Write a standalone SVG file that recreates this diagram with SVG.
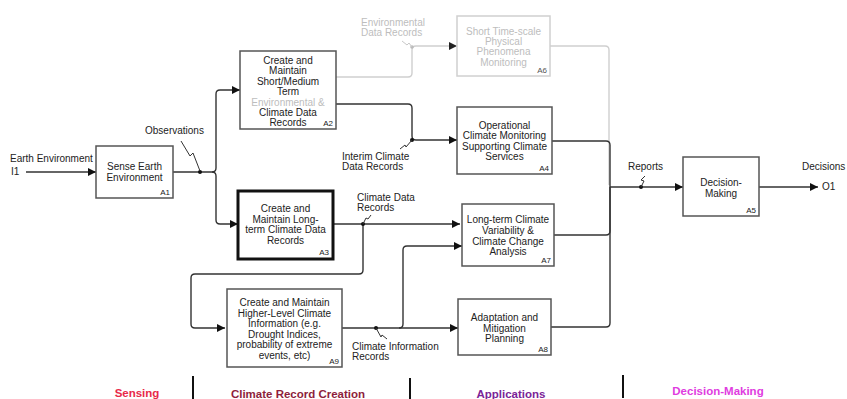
<svg xmlns="http://www.w3.org/2000/svg" width="847" height="399" viewBox="0 0 847 399">
<style>
text{font-family:"Liberation Sans",Arial,sans-serif;fill:#222}
.t{font-size:10px;text-anchor:middle}
.l{font-size:10px}
.id{font-size:8px;text-anchor:end}
.box{fill:#fff;stroke:#555;stroke-width:1.5}
.gbox{fill:#fff;stroke:#d0d0d0;stroke-width:1.5}
.gt{fill:#bdbdbd}
.c{fill:none;stroke:#333;stroke-width:1.4}
.g{fill:none;stroke:#cfcfcf;stroke-width:1.4}
.sq{fill:none;stroke:#333;stroke-width:1}
.sqg{fill:none;stroke:#c8c8c8;stroke-width:1}
.b{font-size:11.5px;font-weight:bold;text-anchor:middle}
</style>
<defs>
<marker id="ah" viewBox="0 0 10 10" refX="10" refY="5" markerWidth="9" markerHeight="8" markerUnits="userSpaceOnUse" orient="auto"><path d="M0,0L10,5L0,10z" fill="#111"/></marker>
<marker id="ahg" viewBox="0 0 10 10" refX="10" refY="5" markerWidth="9" markerHeight="8" markerUnits="userSpaceOnUse" orient="auto"><path d="M0,0L10,5L0,10z" fill="#222"/></marker>
</defs>
<rect width="847" height="399" fill="#fff"/>

<g id="connectors">
<path class="c" d="M26,172H96" marker-end="url(#ah)"/>
<path class="c" d="M173,172H212Q216,172 216,168V94Q216,90 220,90H240" marker-end="url(#ah)"/>
<path class="c" d="M212,172Q216,172 216,176V220Q216,224 220,224H238" marker-end="url(#ah)"/>
<path class="g" d="M336,77H408Q412,77 412,73V50Q412,46 416,46H457" marker-end="url(#ahg)"/>
<path class="c" d="M336,104H408Q412,104 412,108V136Q412,140 416,140H457" marker-end="url(#ah)"/>
<path class="g" d="M550,46H605Q609,46 609,50V185"/>
<path class="c" d="M552,141H606Q610,141 610,145V187"/>
<path class="c" d="M554,235H606Q610,235 610,231V187"/>
<path class="c" d="M551,327H606Q610,327 610,323V187"/>
<path class="c" d="M610,187H683" marker-end="url(#ah)"/>
<path class="c" d="M333,224H460" marker-end="url(#ah)"/>
<path class="c" d="M363,224V270Q363,274 359,274H195Q191,274 191,278V324Q191,328 195,328H225" marker-end="url(#ah)"/>
<path class="c" d="M342,328H458" marker-end="url(#ah)"/>
<path class="c" d="M399,328Q403,328 403,324V250Q403,246 407,246H462" marker-end="url(#ah)"/>
<path class="c" d="M759,187H818" marker-end="url(#ah)"/>
<circle cx="200" cy="172" r="2" fill="#111"/>
<circle cx="412" cy="47" r="1.8" fill="#bbb"/>
<circle cx="412" cy="140" r="2" fill="#111"/>
<circle cx="363" cy="224" r="2" fill="#111"/>
<circle cx="376" cy="328" r="2" fill="#111"/>
<circle cx="641" cy="187" r="2" fill="#111"/>
<polyline class="sq" points="181,141 190,156 193,153 200,171"/>
<polyline class="sqg" points="402,41 407,45 409,43 412,47"/>
<polyline class="sq" points="400,149 405,145 406,147 412,140"/>
<polyline class="sq" points="371,215 368,219 366,218 363,224"/>
<polyline class="sq" points="387,339 382,335 381,337 376,328"/>
<polyline class="sq" points="645,176 641,180 644,181 641,187"/>
</g>

<g id="labels">
<text class="l" x="10" y="162">Earth Environment</text>
<text class="l" x="11" y="175">I1</text>
<text class="l" x="145" y="134">Observations</text>
<text class="l gt" x="361" y="26">Environmental</text>
<text class="l gt" x="361" y="36">Data Records</text>
<text class="l" x="342" y="160">Interim Climate</text>
<text class="l" x="342" y="170">Data Records</text>
<text class="l" x="357" y="201">Climate Data</text>
<text class="l" x="357" y="211">Records</text>
<text class="l" x="352" y="350">Climate Information</text>
<text class="l" x="352" y="360">Records</text>
<text class="l" x="628" y="170">Reports</text>
<text class="l" x="802" y="170">Decisions</text>
<text class="l" x="822" y="190">O1</text>
</g>

<g id="A1">
<rect class="box" x="96" y="146" width="77" height="52"/>
<text class="t" x="134.5" y="169.5">Sense Earth</text>
<text class="t" x="134.5" y="180.5">Environment</text>
<text class="id" x="170" y="195">A1</text>
</g>
<g id="A2">
<rect class="box" x="240" y="51" width="96" height="78"/>
<text class="t" x="288" y="63.5">Create and</text>
<text class="t" x="288" y="74">Maintain</text>
<text class="t" x="288" y="84.5">Short/Medium</text>
<text class="t" x="288" y="95">Term</text>
<text class="t gt" x="288" y="105.5">Environmental &amp;</text>
<text class="t" x="288" y="116">Climate Data</text>
<text class="t" x="288" y="126">Records</text>
<text class="id" x="333" y="126">A2</text>
</g>
<g id="A6">
<rect class="gbox" x="457" y="16" width="93" height="60"/>
<text class="t gt" x="503.5" y="34.5">Short Time-scale</text>
<text class="t gt" x="503.5" y="44.5">Physical</text>
<text class="t gt" x="503.5" y="55">Phenomena</text>
<text class="t gt" x="503.5" y="65.5">Monitoring</text>
<text class="id" x="547" y="73" style="fill:#555">A6</text>
</g>
<g id="A4">
<rect class="box" x="457" y="107" width="95" height="67"/>
<text class="t" x="504.5" y="128.5">Operational</text>
<text class="t" x="504.5" y="139">Climate Monitoring</text>
<text class="t" x="504.5" y="149.5">Supporting Climate</text>
<text class="t" x="504.5" y="159.5">Services</text>
<text class="id" x="549" y="171">A4</text>
</g>
<g id="A3">
<rect x="238" y="191" width="95" height="68" fill="#fff" stroke="#111" stroke-width="3"/>
<text class="t" x="285.5" y="212">Create and</text>
<text class="t" x="285.5" y="222.5">Maintain Long-</text>
<text class="t" x="285.5" y="233">term Climate Data</text>
<text class="t" x="285.5" y="244">Records</text>
<text class="id" x="329" y="255">A3</text>
</g>
<g id="A7">
<rect class="box" x="462" y="204" width="92" height="62"/>
<text class="t" x="508" y="222.5">Long-term Climate</text>
<text class="t" x="508" y="233.5">Variability &amp;</text>
<text class="t" x="508" y="244.5">Climate Change</text>
<text class="t" x="508" y="254.5">Analysis</text>
<text class="id" x="551" y="263">A7</text>
</g>
<g id="A9">
<rect class="box" x="227" y="289" width="115" height="78"/>
<text class="t" x="284.5" y="305.5">Create and Maintain</text>
<text class="t" x="284.5" y="316.5">Higher-Level Climate</text>
<text class="t" x="284.5" y="326.5">Information (e.g.</text>
<text class="t" x="284.5" y="337.5">Drought Indices,</text>
<text class="t" x="284.5" y="348">probability of extreme</text>
<text class="t" x="284.5" y="358.5">events, etc)</text>
<text class="id" x="339" y="364">A9</text>
</g>
<g id="A8">
<rect class="box" x="458" y="299" width="93" height="56"/>
<text class="t" x="504.5" y="321">Adaptation and</text>
<text class="t" x="504.5" y="331.5">Mitigation</text>
<text class="t" x="504.5" y="341.5">Planning</text>
<text class="id" x="548" y="352">A8</text>
</g>
<g id="A5">
<rect class="box" x="683" y="157" width="76" height="59"/>
<text class="t" x="721" y="185.5">Decision-</text>
<text class="t" x="721" y="196.5">Making</text>
<text class="id" x="756" y="213">A5</text>
</g>

<g id="phases">
<line x1="193" y1="376" x2="193" y2="399" stroke="#111" stroke-width="2"/>
<line x1="410" y1="378" x2="410" y2="399" stroke="#111" stroke-width="2"/>
<line x1="623" y1="375" x2="623" y2="398" stroke="#111" stroke-width="2"/>
<text class="b" x="137" y="397" style="fill:#e8294a">Sensing</text>
<text class="b" x="298" y="398" style="fill:#8e1e3c">Climate Record Creation</text>
<text class="b" x="511" y="398" style="fill:#7b2497">Applications</text>
<text class="b" x="718" y="395" style="fill:#e03ce0">Decision-Making</text>
</g>
</svg>
